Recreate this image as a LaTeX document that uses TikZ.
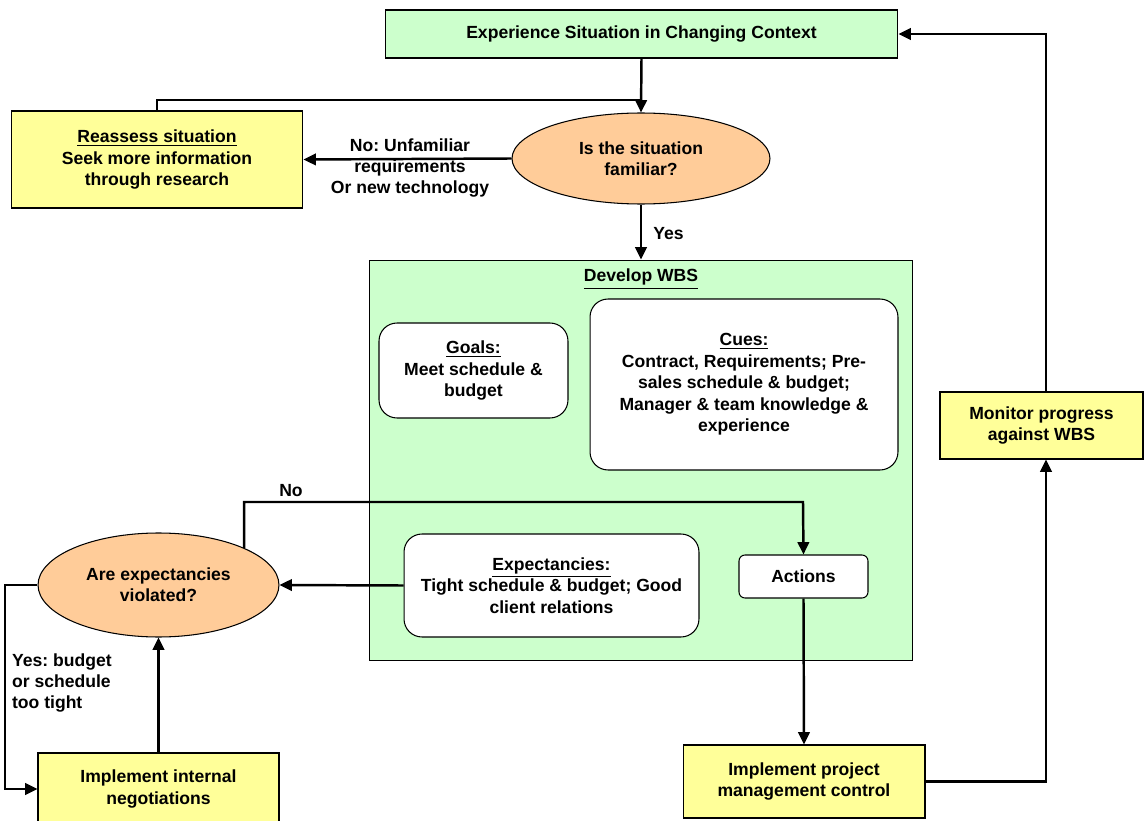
\documentclass[tikz,border=0pt]{standalone}
\usepackage{fontspec}
\setmainfont{Liberation Sans}
\usepackage{xcolor}
\usepackage{tikz}
\usetikzlibrary{shapes.geometric, arrows.meta, positioning, calc}
\frenchspacing
\definecolor{boxgreen}{HTML}{CCFFCC}
\definecolor{boxyellow}{HTML}{FFFF99}
\definecolor{boxorange}{HTML}{FFCC99}
\tikzset{
  blockY/.style   = {rectangle, draw, line width=0.6pt, fill=boxyellow, align=center, inner sep=0pt},
  blockG/.style   = {rectangle, draw, line width=0.6pt, fill=boxgreen, align=center, inner sep=0pt},
  blockW/.style   = {rectangle, draw, line width=0.6pt, fill=white, align=center, inner sep=0pt,
                     rounded corners=0.36cm},
  decision/.style = {ellipse, draw, line width=0.6pt, fill=boxorange, align=center, inner sep=0pt},
  txt/.style      = {align=center, inner sep=1pt},
  arrow/.style    = {line width=1.4pt, -{Triangle[length=7pt,width=6.5pt]}},
  wire/.style     = {line width=1.4pt},
}

\begin{document}
\begin{tikzpicture}[x=0.02cm, y=-0.02cm,
    every node/.style={font=\fontsize{10}{12.2}\selectfont\bfseries}]

    \useasboundingbox (0,0) rectangle (1144,821);

    %% Develop WBS container
    \node[blockG, minimum width=10.88cm, minimum height=8.02cm] (wbs) at (641,460.5) {};
    \node[txt] (wbstitle) at (641,279) {\underline{Develop WBS}};

    %% Top part
    \node[blockG, minimum width=10.26cm, minimum height=0.96cm] (exp) at (641.5,34)
         {Experience Situation in Changing Context};
    \node[decision, minimum width=5.16cm, minimum height=1.82cm] (fam) at (641,158.5)
         {Is the situation\\familiar?};
    \node[blockY, minimum width=5.84cm, minimum height=1.94cm] (reas) at (157,159.5)
         {\underline{Reassess situation}\\Seek more information\\through research};
    \coordinate (join) at (641,100);

    \draw[arrow] (exp.south) -- (fam.north);
    \draw[wire] (reas.north) |- (join);
    \draw[arrow] (fam.west) -- (reas.east);
    \node[txt] (nolbl) at (410,168) {No: Unfamiliar\\requirements\\Or new technology};
    \draw[arrow] (fam.south) -- node[right, xshift=3pt, yshift=-1pt]{Yes} (wbs.north);

    %% Inside WBS
    \node[blockW, minimum width=3.78cm, minimum height=1.90cm] (goals) at (473.5,370.5)
         {\underline{Goals:}\\Meet schedule \&\\budget};
    \node[blockW, minimum width=6.16cm, minimum height=3.42cm] (cues) at (744,384.5)
         {\underline{Cues:}\\Contract, Requirements; Pre-\\sales schedule \& budget;\\Manager \& team knowledge \&\\experience};
    \node[blockW, minimum width=5.90cm, minimum height=2.06cm] (expt) at (551.5,585.5)
         {\underline{Expectancies:}\\Tight schedule \& budget; Good\\client relations};
    \node[blockW, rounded corners=0.12cm, minimum width=2.58cm, minimum height=0.86cm] (act) at (803.5,576.5)
         {Actions};

    %% Lower left loop
    \node[decision, minimum width=4.82cm, minimum height=2.08cm] (viol) at (158.5,585)
         {Are expectancies\\violated?};
    \node[blockY, minimum width=4.82cm, minimum height=1.44cm] (neg) at (158.5,789)
         {Implement internal\\negotiations};
    \coordinate (nocorner) at (803,502);
    \coordinate (yesleft) at (5,700);

    \draw[arrow] (expt.west) -- (viol.east);
    \draw[arrow] (viol.north east) |- (nocorner) -- (act.north);
    \node[txt] (nolbl2) at (291,491) {No};
    \draw[arrow] (viol.west) -| (yesleft) |- (neg.west);
    \node[txt, align=left, anchor=west] (yeslbl) at (10,683) {Yes: budget\\or schedule\\too tight};
    \draw[arrow] (neg.north) -- (viol.south);

    %% Right side loop
    \node[blockY, minimum width=4.84cm, minimum height=1.46cm] (pmc) at (804,781.5)
         {Implement project\\management control};
    \node[blockY, minimum width=4.06cm, minimum height=1.34cm] (mon) at (1041.5,425.5)
         {Monitor progress\\against WBS};

    \draw[arrow] (act.south) -- (pmc.north);
    \draw[arrow] (pmc.east) -| ([xshift=0.09cm]mon.south);
    \draw[arrow] ([xshift=0.09cm]mon.north) |- (exp.east);

\end{tikzpicture}
\end{document}
